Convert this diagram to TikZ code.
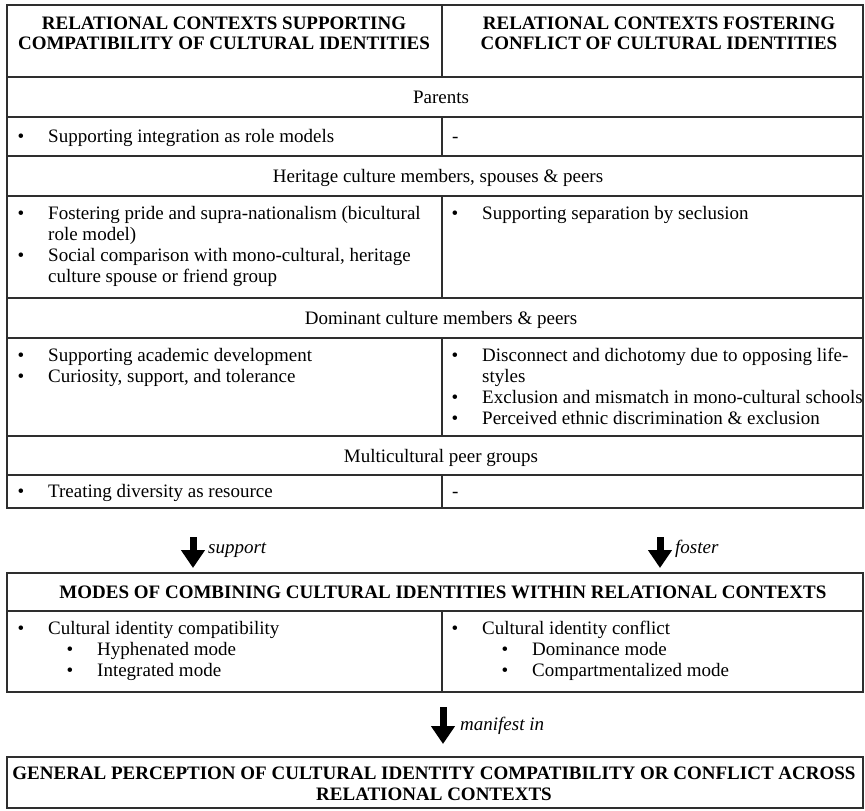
\documentclass[tikz,border=0pt]{standalone}
\usepackage{fontspec}
\setmainfont{Liberation Serif}
\usetikzlibrary{arrows.meta}
\begin{document}
\begin{tikzpicture}[x=1pt,y=-1pt,
  rule/.style={line width=1.6pt, draw=black!82},
  txt/.style={anchor=base west, inner sep=0pt, font=\fontsize{19}{21}\selectfont},
  ctxt/.style={anchor=base, inner sep=0pt, font=\fontsize{19}{21}\selectfont},
  hd/.style={anchor=base, inner sep=0pt, font=\fontsize{19}{21}\selectfont\bfseries},
  bul/.style={anchor=base, inner sep=0pt, font=\fontsize{19}{21}\selectfont},
  lbl/.style={anchor=base west, inner sep=0pt, font=\fontsize{19}{21}\selectfont\itshape},
  bigarrow/.style={line width=7pt, -{Triangle[width=23pt,length=18pt]}}]
\useasboundingbox (0,0) rectangle (865,811);
% ---------- top table ----------
\draw[rule] (7,5) rectangle (863,508);
\foreach \yy in {77,117,156,196,298,338,436,475} \draw[rule] (7,\yy) -- (863,\yy);
\draw[rule] (442,5) -- (442,77);
\draw[rule] (442,117) -- (442,156);
\draw[rule] (442,196) -- (442,298);
\draw[rule] (442,338) -- (442,436);
\draw[rule] (442,475) -- (442,508);
% headers
\node[hd] (h1a) at (224,29) {RELATIONAL CONTEXTS SUPPORTING};
\node[hd] (h1b) at (224,49) {COMPATIBILITY OF CULTURAL IDENTITIES};
\node[hd] (h2a) at (659,29) {RELATIONAL CONTEXTS FOSTERING};
\node[hd] (h2b) at (659,49) {CONFLICT OF CULTURAL IDENTITIES};
% Parents
\node[ctxt] (s1) at (441,103) {Parents};
\node[bul] (b1) at (21,142) {•};
\node[txt] (t1) at (48,142) {Supporting integration as role models};
\node[txt] (d1) at (452,142) {-};
% Heritage
\node[ctxt] (s2) at (438,182) {Heritage culture members, spouses \& peers};
\node[bul] (b2a) at (21,219) {•};
\node[txt] (t2a) at (48,219) {Fostering pride and supra-nationalism (bicultural};
\node[txt] (t2b) at (48,240) {role model)};
\node[bul] (b2c) at (21,261) {•};
\node[txt] (t2c) at (48,261) {Social comparison with mono-cultural, heritage};
\node[txt] (t2d) at (48,282) {culture spouse or friend group};
\node[bul] (b2r) at (455,219) {•};
\node[txt] (t2r) at (482,219) {Supporting separation by seclusion};
% Dominant
\node[ctxt] (s3) at (441,324) {Dominant culture members \& peers};
\node[bul] (b3a) at (21,361) {•};
\node[txt] (t3a) at (48,361) {Supporting academic development};
\node[bul] (b3b) at (21,382) {•};
\node[txt] (t3b) at (48,382) {Curiosity, support, and tolerance};
\node[bul] (b3r1) at (455,361) {•};
\node[txt] (t3r1) at (482,361) {Disconnect and dichotomy due to opposing life-};
\node[txt] (t3r2) at (482,382) {styles};
\node[bul] (b3r3) at (455,403) {•};
\node[txt] (t3r3) at (482,403) {Exclusion and mismatch in mono-cultural schools};
\node[bul] (b3r4) at (455,424) {•};
\node[txt] (t3r4) at (482,424) {Perceived ethnic discrimination \& exclusion};
% Multicultural
\node[ctxt] (s4) at (441,462) {Multicultural peer groups};
\node[bul] (b4) at (21,497) {•};
\node[txt] (t4) at (48,497) {Treating diversity as resource};
\node[txt] (d4) at (452,497) {-};
% ---------- arrows ----------
\coordinate (sa1) at (193,537); \coordinate (sa2) at (193,568);
\draw[bigarrow] (sa1) -- (sa2);
\node[lbl] (ls) at (208,553) {support};
\coordinate (fa1) at (660,537); \coordinate (fa2) at (660,568);
\draw[bigarrow] (fa1) -- (fa2);
\node[lbl] (lf) at (675,553) {foster};
% ---------- modes box ----------
\draw[rule] (7,573) rectangle (863,692);
\draw[rule] (7,611) -- (863,611);
\draw[rule] (442,611) -- (442,692);
\node[hd] (mt) at (443,598) {MODES OF COMBINING CULTURAL IDENTITIES WITHIN RELATIONAL CONTEXTS};
\node[bul] (m1) at (21,634) {•};
\node[txt] (m1t) at (48,634) {Cultural identity compatibility};
\node[bul] (m2) at (70,655) {•};
\node[txt] (m2t) at (97,655) {Hyphenated mode};
\node[bul] (m3) at (70,676) {•};
\node[txt] (m3t) at (97,676) {Integrated mode};
\node[bul] (n1) at (455,634) {•};
\node[txt] (n1t) at (482,634) {Cultural identity conflict};
\node[bul] (n2) at (505,655) {•};
\node[txt] (n2t) at (532,655) {Dominance mode};
\node[bul] (n3) at (505,676) {•};
\node[txt] (n3t) at (532,676) {Compartmentalized mode};
% ---------- manifest arrow ----------
\coordinate (ma1) at (443,707); \coordinate (ma2) at (443,744);
\draw[bigarrow] (ma1) -- (ma2);
\node[lbl] (lm) at (460,730) {manifest in};
% ---------- general box ----------
\draw[rule] (7,757) rectangle (863,808);
\node[hd] (g1) at (434,779) {GENERAL PERCEPTION OF CULTURAL IDENTITY COMPATIBILITY OR CONFLICT ACROSS};
\node[hd] (g2) at (434,800) {RELATIONAL CONTEXTS};
\end{tikzpicture}
\end{document}
